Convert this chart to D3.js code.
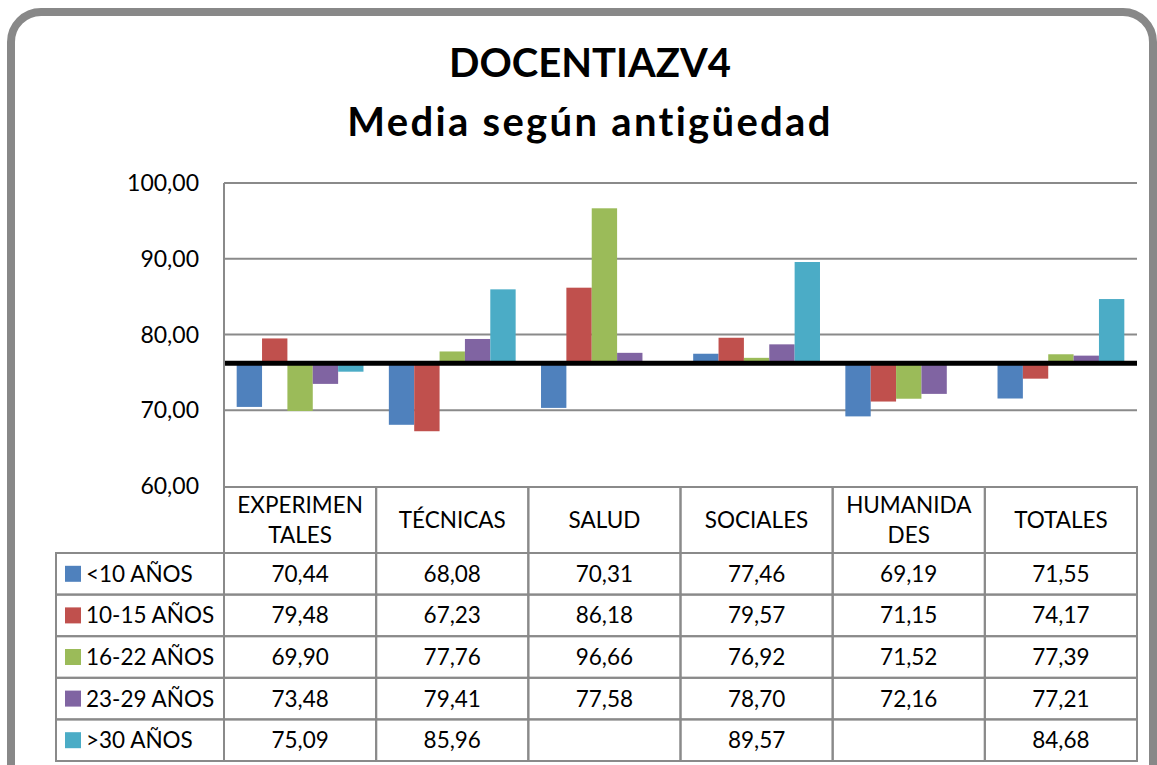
<!DOCTYPE html>
<html>
<head>
<meta charset="utf-8">
<script src="https://cdn.jsdelivr.net/npm/d3@7"></script>
<style>
  body { margin: 0; background: #fff; }
  svg text { font-family: Lato, "Open Sans", sans-serif; fill: #000; }
</style>
</head>
<body>
<svg id="chart" width="1157" height="765"></svg>
<script>
// categories and series
var categories = ["EXPERIMEN\nTALES", "TÉCNICAS", "SALUD", "SOCIALES", "HUMANIDA\nDES", "TOTALES"];
var seriesNames = ["<10 AÑOS", "10-15 AÑOS", "16-22 AÑOS", "23-29 AÑOS", ">30 AÑOS"];
var seriesColors = ["#4F81BD", "#C0504D", "#9BBB59", "#8064A2", "#4BACC6"];
var values = [
  [70.44, 68.08, 70.31, 77.46, 69.19, 71.55],
  [79.48, 67.23, 86.18, 79.57, 71.15, 74.17],
  [69.90, 77.76, 96.66, 76.92, 71.52, 77.39],
  [73.48, 79.41, 77.58, 78.70, 72.16, 77.21],
  [75.09, 85.96, null, 89.57, null, 84.68]
];
var yTicks = [60, 70, 80, 90, 100];
var baseline = 76.2;

var svg = d3.select("#chart");
var fmt = v => v.toFixed(2).replace(".", ",");

// frame
svg.append("rect")
  .attr("x", 11).attr("y", 12)
  .attr("width", 1142).attr("height", 790)
  .attr("rx", 30).attr("ry", 30)
  .attr("fill", "none")
  .attr("stroke", "#888")
  .attr("stroke-width", 8);

// title
svg.append("text")
  .attr("x", 590).attr("y", 77)
  .attr("text-anchor", "middle")
  .attr("font-size", 40).attr("font-weight", "bold")
  .text("DOCENTIAZV4");
svg.append("text")
  .attr("x", 590).attr("y", 136)
  .attr("text-anchor", "middle")
  .attr("font-size", 40).attr("font-weight", "bold")
  .attr("letter-spacing", 2.3)
  .text("Media según antigüedad");

var pLeft = 224, pRight = 1137, pTop = 183, pBottom = 486;

var x = d3.scaleBand()
  .domain(d3.range(categories.length))
  .range([pLeft, pRight]);

var xs = d3.scaleBand()
  .domain(d3.range(seriesNames.length))
  .range([0, x.bandwidth()])
  .paddingOuter(0.5);

var y = d3.scaleLinear()
  .domain([60, 100])
  .range([pBottom, pTop]);

var grid = "#8a8a8a";

// gridlines
svg.append("g").selectAll("line")
  .data(yTicks.slice(1))
  .join("line")
    .attr("x1", pLeft).attr("x2", pRight)
    .attr("y1", d => y(d)).attr("y2", d => y(d))
    .attr("stroke", grid).attr("stroke-width", 2);

// y axis labels
svg.append("g").selectAll("text")
  .data(yTicks)
  .join("text")
    .attr("x", 199)
    .attr("y", d => y(d) + 8)
    .attr("text-anchor", "end")
    .attr("font-size", 23)
    .text(d => fmt(d));

// bars
values.forEach((row, s) => {
  svg.append("g").selectAll("rect")
    .data(row.map((v, i) => ({ v: v, i: i })).filter(d => d.v !== null))
    .join("rect")
      .attr("x", d => x(d.i) + xs(s))
      .attr("width", xs.bandwidth())
      .attr("y", d => y(Math.max(d.v, baseline)))
      .attr("height", d => Math.abs(y(d.v) - y(baseline)))
      .attr("fill", seriesColors[s]);
});

// baseline
svg.append("line")
  .attr("x1", pLeft).attr("x2", pRight)
  .attr("y1", y(baseline)).attr("y2", y(baseline))
  .attr("stroke", "#000").attr("stroke-width", 5);

// left axis line
svg.append("line")
  .attr("x1", pLeft).attr("x2", pLeft)
  .attr("y1", pTop).attr("y2", pBottom)
  .attr("stroke", grid).attr("stroke-width", 2);

// data table
var headTop = 487, headBottom = 553, rowH = 41.6;
var legendLeft = 56;
var table = svg.append("g");

// header cells
table.selectAll(".hcell")
  .data(categories)
  .join("rect")
    .attr("x", (d, i) => x(i)).attr("y", headTop)
    .attr("width", x.bandwidth()).attr("height", headBottom - headTop)
    .attr("fill", "none").attr("stroke", grid).attr("stroke-width", 2);

categories.forEach((c, i) => {
  var lines = c.split("\n");
  var mid = (headTop + headBottom) / 2;
  lines.forEach((ln, k) => {
    table.append("text")
      .attr("x", x(i) + x.bandwidth() / 2)
      .attr("y", mid + 8 + (k - (lines.length - 1) / 2) * 30)
      .attr("text-anchor", "middle")
      .attr("font-size", 22.5)
      .text(ln);
  });
});

// body rows
seriesNames.forEach((name, s) => {
  var ry = headBottom + s * rowH;
  table.append("rect")
    .attr("x", legendLeft).attr("y", ry)
    .attr("width", pLeft - legendLeft).attr("height", rowH)
    .attr("fill", "none").attr("stroke", grid).attr("stroke-width", 2);
  table.append("rect")
    .attr("x", 65).attr("y", ry + rowH / 2 - 8)
    .attr("width", 16).attr("height", 16)
    .attr("fill", seriesColors[s]);
  table.append("text")
    .attr("x", 86).attr("y", ry + rowH / 2 + 8)
    .attr("font-size", 22.5)
    .text(name);
  values[s].forEach((v, i) => {
    table.append("rect")
      .attr("x", x(i)).attr("y", ry)
      .attr("width", x.bandwidth()).attr("height", rowH)
      .attr("fill", "none").attr("stroke", grid).attr("stroke-width", 2);
    if (v !== null) {
      table.append("text")
        .attr("x", x(i) + x.bandwidth() / 2)
        .attr("y", ry + rowH / 2 + 8)
        .attr("text-anchor", "middle")
        .attr("font-size", 22.5)
        .text(fmt(v));
    }
  });
});
</script>
</body>
</html>
